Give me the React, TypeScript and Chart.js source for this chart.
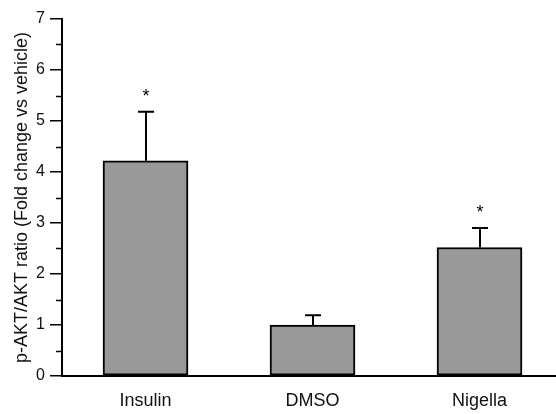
import React, { useEffect, useRef } from "react";
import { Chart, registerables } from "chart.js";

Chart.register(...registerables);

// Treatment groups, mean fold change, upper error (SEM) and significance marks
const groups = ["Insulin", "DMSO", "Nigella"];
const meanRatio = [4.22, 1.0, 2.52];
const errorUp = [0.96, 0.19, 0.38];
const significance = ["*", "", "*"];

const yTicksMin = 0;
const yTicksMax = 7;

const FONT = "'Liberation Sans', Arial, Helvetica, sans-serif";

// Short ticks halfway between the labelled y ticks
const minorTicksPlugin = {
  id: "minorTicks",
  afterDraw(chart: any) {
    const y = chart.scales.y;
    const { ctx, chartArea } = chart;
    const ticks = y.ticks;
    ctx.save();
    ctx.strokeStyle = "#000";
    ctx.lineWidth = 1.5;
    for (let i = 0; i < ticks.length - 1; i++) {
      const mid = (ticks[i].value + ticks[i + 1].value) / 2;
      const py = Math.round(y.getPixelForValue(mid)) + 0.5;
      ctx.beginPath();
      ctx.moveTo(chartArea.left - 6, py);
      ctx.lineTo(chartArea.left, py);
      ctx.stroke();
    }
    ctx.restore();
  },
};

// Upper error bars with caps, plus significance asterisks
const errorBarPlugin = {
  id: "errorBars",
  afterDatasetsDraw(chart: any) {
    const { ctx } = chart;
    const y = chart.scales.y;
    const meta = chart.getDatasetMeta(0);
    ctx.save();
    ctx.strokeStyle = "#000";
    ctx.lineWidth = 2;
    meta.data.forEach((bar: any, i: number) => {
      const x = Math.round(bar.x);
      const yTop = y.getPixelForValue(meanRatio[i]);
      const yErr = y.getPixelForValue(meanRatio[i] + errorUp[i]);
      ctx.beginPath();
      ctx.moveTo(x, yTop);
      ctx.lineTo(x, yErr);
      ctx.moveTo(x - 8, yErr);
      ctx.lineTo(x + 8, yErr);
      ctx.stroke();
      if (significance[i]) {
        ctx.fillStyle = "#000";
        ctx.font = `18px ${FONT}`;
        ctx.textAlign = "center";
        ctx.textBaseline = "alphabetic";
        ctx.fillText(significance[i], x, yErr - 10);
      }
    });
    ctx.restore();
  },
};

export default function App() {
  const canvasRef = useRef<HTMLCanvasElement | null>(null);

  useEffect(() => {
    if (!canvasRef.current) return;
    const chart = new Chart(canvasRef.current, {
      type: "bar",
      data: {
        datasets: [
          {
            data: meanRatio.map((v, i) => ({ x: i, y: v })),
            backgroundColor: "#999999",
            borderColor: "#000000",
            borderWidth: 2,
            borderSkipped: false,
            barThickness: 85,
          },
        ],
      },
      options: {
        responsive: false,
        animation: false,
        layout: { padding: { top: 19, right: 0, bottom: 0, left: 0 } },
        plugins: {
          legend: { display: false },
          tooltip: { enabled: false },
        },
        scales: {
          x: {
            type: "linear",
            offset: false,
            min: -0.5,
            max: 2.458,
            grid: { display: false, drawTicks: false, offset: false },
            border: { display: true, color: "#000", width: 2 },
            afterBuildTicks: (scale: any) => {
              scale.ticks = groups.map((_, i) => ({ value: i }));
            },
            afterFit: (scale: any) => {
              scale.height = 38;
            },
            ticks: {
              padding: 14,
              color: "#111",
              font: { family: FONT, size: 18 },
              callback: (v: any) => groups[Number(v)] ?? "",
            },
          },
          y: {
            min: yTicksMin,
            max: yTicksMax,
            grid: {
              drawOnChartArea: false,
              drawTicks: true,
              tickLength: 12,
              color: "#000",
              lineWidth: 1.5,
            },
            border: { display: true, color: "#000", width: 2 },
            afterFit: (scale: any) => {
              scale.width = 62;
            },
            ticks: {
              stepSize: 1,
              padding: 5,
              color: "#111",
              font: { family: FONT, size: 16 },
            },
            title: {
              display: true,
              text: "p-AKT/AKT ratio (Fold change vs vehicle)",
              color: "#111",
              font: { family: FONT, size: 18 },
              padding: { top: 11, bottom: 0 },
            },
          },
        },
      },
      plugins: [minorTicksPlugin, errorBarPlugin],
    });
    return () => chart.destroy();
  }, []);

  return (
    <div style={{ position: "fixed", left: 0, top: 0, width: 556, height: 414, background: "#fff" }}>
      <canvas ref={canvasRef} width={556} height={414} />
    </div>
  );
}
